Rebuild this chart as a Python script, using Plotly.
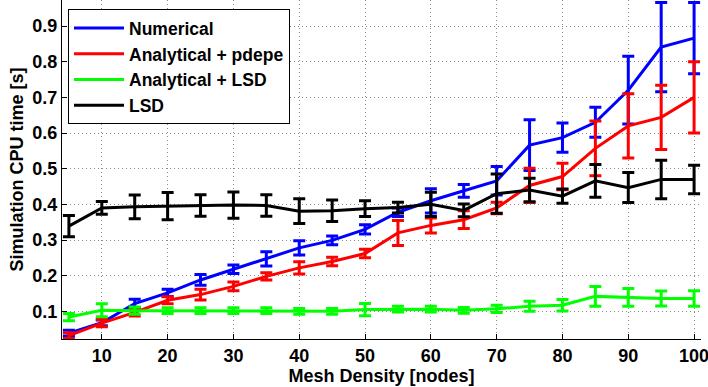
import plotly.graph_objects as go

nodes = [5, 10, 15, 20, 25, 30, 35, 40, 45, 50, 55, 60, 65, 70, 75, 80, 85, 90, 95, 100]

numerical = [0.039, 0.068, 0.122, 0.152, 0.188, 0.218, 0.247, 0.278, 0.299, 0.330,
             0.378, 0.410, 0.438, 0.466, 0.566, 0.587, 0.630, 0.720, 0.841, 0.866]
numerical_err = [0.008, 0.008, 0.012, 0.010, 0.015, 0.012, 0.020, 0.020, 0.012, 0.013,
                 0.012, 0.034, 0.018, 0.040, 0.071, 0.041, 0.042, 0.095, 0.125, 0.100]

pdepe = [0.032, 0.067, 0.097, 0.131, 0.147, 0.170, 0.198, 0.222, 0.240, 0.262,
         0.320, 0.341, 0.357, 0.390, 0.453, 0.478, 0.557, 0.620, 0.644, 0.700]
pdepe_err = [0.008, 0.010, 0.010, 0.010, 0.015, 0.012, 0.010, 0.017, 0.012, 0.012,
             0.035, 0.021, 0.025, 0.016, 0.048, 0.037, 0.077, 0.090, 0.090, 0.100]

an_lsd = [0.084, 0.103, 0.102, 0.102, 0.102, 0.102, 0.102, 0.100, 0.100, 0.105,
          0.106, 0.106, 0.103, 0.107, 0.114, 0.117, 0.142, 0.139, 0.136, 0.136]
an_lsd_err = [0.010, 0.018, 0.010, 0.008, 0.008, 0.008, 0.008, 0.008, 0.008, 0.017,
              0.008, 0.008, 0.008, 0.010, 0.014, 0.016, 0.028, 0.025, 0.021, 0.022]

lsd = [0.339, 0.390, 0.393, 0.395, 0.397, 0.398, 0.397, 0.381, 0.382, 0.388,
       0.391, 0.400, 0.383, 0.430, 0.440, 0.423, 0.466, 0.447, 0.470, 0.470]
lsd_err = [0.030, 0.018, 0.033, 0.038, 0.030, 0.037, 0.030, 0.035, 0.030, 0.022,
           0.015, 0.034, 0.018, 0.055, 0.033, 0.020, 0.046, 0.042, 0.054, 0.040]

x_ticks = [10, 20, 30, 40, 50, 60, 70, 80, 90, 100]
y_ticks = [0.1, 0.2, 0.3, 0.4, 0.5, 0.6, 0.7, 0.8, 0.9]

series = [
    ("Numerical", numerical, numerical_err, "#0000FF"),
    ("Analytical + pdepe", pdepe, pdepe_err, "#FF0000"),
    ("Analytical + LSD", an_lsd, an_lsd_err, "#00FF00"),
    ("LSD", lsd, lsd_err, "#000000"),
]

fig = go.Figure()
for name, vals, errs, col in series:
    fig.add_trace(go.Scatter(
        x=nodes, y=vals, name=name, mode="lines",
        line=dict(color=col, width=3),
        error_y=dict(type="data", array=errs, visible=True, color=col,
                     thickness=3, width=6),
    ))

fam = "Liberation Sans, Arial, sans-serif"
font = dict(family=fam, size=18, color="black", weight="bold")

fig.update_layout(
    width=708, height=387,
    margin=dict(l=62, r=7, t=0, b=48),
    paper_bgcolor="white", plot_bgcolor="white",
    font=font,
    showlegend=True,
    legend=dict(x=0.0094, y=0.973, xanchor="left", yanchor="top",
                bgcolor="white", bordercolor="black", borderwidth=1,
                font=dict(family=fam, size=17.5, color="black", weight="bold"),
                itemwidth=50, tracegroupgap=0),
)
fig.update_xaxes(
    range=[3.95, 101.05], tickmode="array", tickvals=x_ticks,
    ticks="inside", ticklen=5, tickcolor="black",
    ticklabeloverflow="allow",
    showline=True, linecolor="black", linewidth=1,
    showgrid=True, gridcolor="#8a8a8a", griddash="1px,3px", gridwidth=1,
    zeroline=False,
    title=dict(text="Mesh Density [nodes]", standoff=2, font=font),
)
fig.update_yaxes(
    range=[0.0225, 0.973], tickmode="array",
    tickvals=y_ticks, ticktext=[f"{v:.1f}" for v in y_ticks],
    ticks="inside", ticklen=5, tickcolor="black",
    showline=True, linecolor="black", linewidth=1,
    showgrid=True, gridcolor="#8a8a8a", griddash="1px,3px", gridwidth=1,
    zeroline=False,
    title=dict(text="Simulation CPU time [s]", standoff=4, font=font),
)

fig.write_html("out.html")
